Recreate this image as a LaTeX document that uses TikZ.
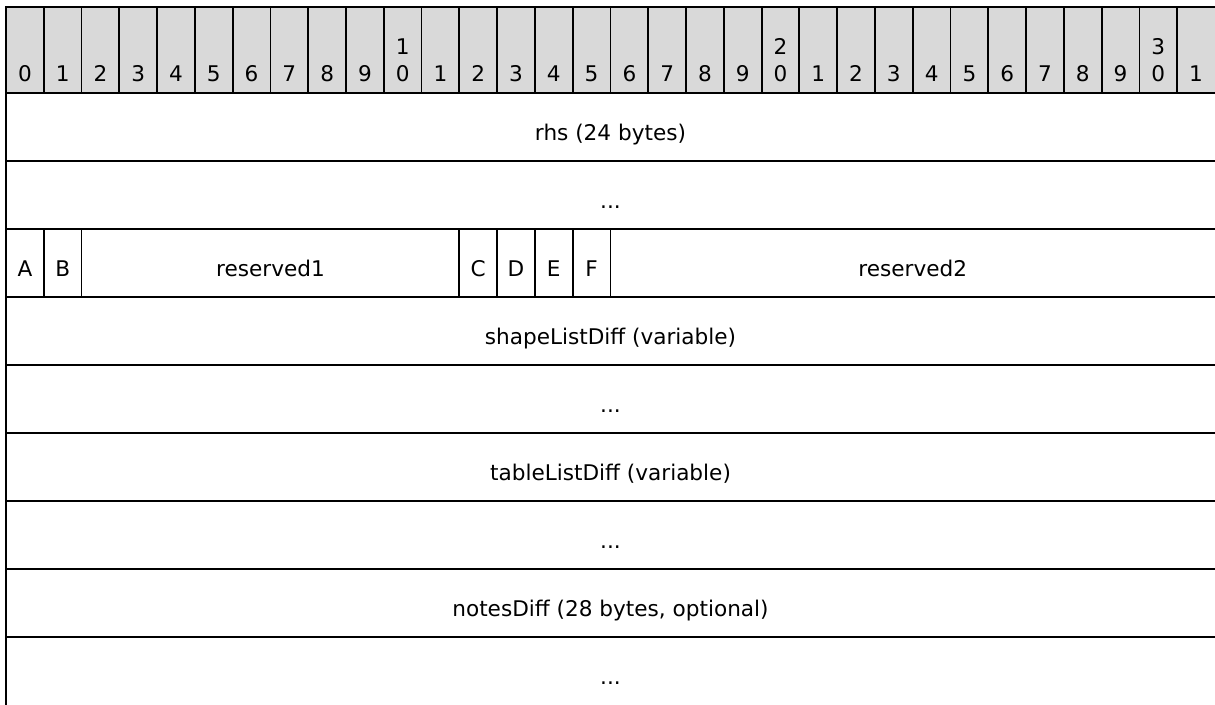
\documentclass[tikz,border=0pt]{standalone}
\usepackage{fontspec}
\setmainfont{DejaVu Sans}
\definecolor{hdrgray}{HTML}{D9D9D9}
\begin{document}
\begin{tikzpicture}[x=1pt,y=-1pt,
  rule/.style={line width=1.8pt, line cap=rect},
  bitlbl/.style={anchor=base, inner sep=0pt, font=\fontsize{21.6}{26}\selectfont},
  fieldlbl/.style={anchor=base, inner sep=0pt, font=\fontsize{21.6}{26}\selectfont}]
\useasboundingbox (0,0) rectangle (1215,704);
% header row
\fill[hdrgray] (6,7) rectangle (1215,93);
\foreach \i in {0,...,31}{
  \pgfmathsetmacro{\xc}{6+37.78*(\i+0.5)}
  \pgfmathtruncatemacro{\units}{mod(\i,10)}
  \pgfmathtruncatemacro{\tens}{\i/10}
  \node[bitlbl] (bit\i) at (\xc,81) {\units};
  \ifnum\units=0 \ifnum\i>0 \node[bitlbl] (bittens\i) at (\xc,54) {\tens}; \fi\fi
}
\foreach \i in {1,...,31}
  \draw[rule] ({6+37.78*\i},7) -- ({6+37.78*\i},93);
% row rules
\foreach \y in {7,93,161,229,297,365,433,501,569,637}
  \draw[rule] (6,\y) -- (1215,\y);
\draw[rule] (6,7) -- (6,704);
% flag row
\foreach \i in {1,2,12,13,14,15,16}
  \draw[rule] ({6+37.78*\i},229) -- ({6+37.78*\i},297);
% fields
\node[fieldlbl] (rhs) at (610.5,140) {rhs (24 bytes)};
\node[fieldlbl] (rhsmore) at (610.5,208) {...};
\node[fieldlbl] (fA) at ({6+37.78*0.5},276) {A};
\node[fieldlbl] (fB) at ({6+37.78*1.5},276) {B};
\node[fieldlbl] (res1) at ({6+37.78*7},276) {reserved1};
\node[fieldlbl] (fC) at ({6+37.78*12.5},276) {C};
\node[fieldlbl] (fD) at ({6+37.78*13.5},276) {D};
\node[fieldlbl] (fE) at ({6+37.78*14.5},276) {E};
\node[fieldlbl] (fF) at ({6+37.78*15.5},276) {F};
\node[fieldlbl] (res2) at ({6+37.78*24},276) {reserved2};
\node[fieldlbl] (shape) at (610.5,344) {shapeListDiff (variable)};
\node[fieldlbl] (shapemore) at (610.5,412) {...};
\node[fieldlbl] (table) at (610.5,480) {tableListDiff (variable)};
\node[fieldlbl] (tablemore) at (610.5,548) {...};
\node[fieldlbl] (notes) at (610.5,616) {notesDiff (28 bytes, optional)};
\node[fieldlbl] (notesmore) at (610.5,684) {...};
\end{tikzpicture}
\end{document}
